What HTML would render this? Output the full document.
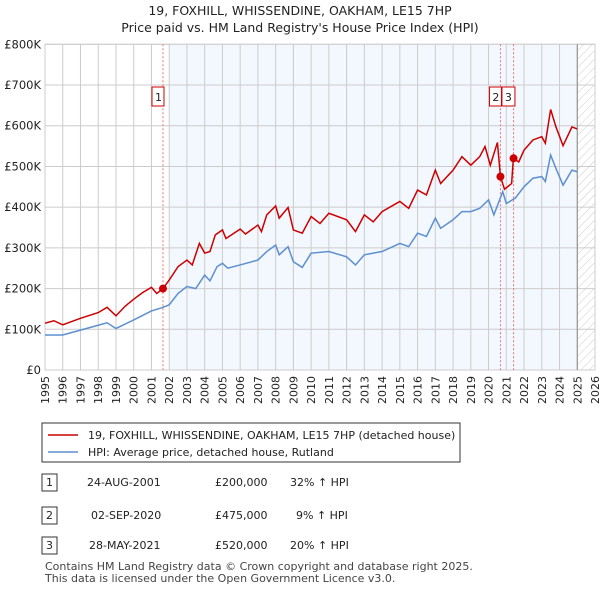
<!DOCTYPE html>
<html><head><meta charset="utf-8"><style>
body{margin:0;background:#fff;font-family:"Liberation Sans","DejaVu Sans",sans-serif;}
svg text{font-family:"DejaVu Sans","Liberation Sans",sans-serif;}
</style></head><body>
<svg id="c" width="600" height="590" xmlns="http://www.w3.org/2000/svg">
<text x="300" y="15" text-anchor="middle" font-size="12.5" fill="#222">19, FOXHILL, WHISSENDINE, OAKHAM, LE15 7HP</text>
<text x="300" y="32" text-anchor="middle" font-size="12.5" fill="#222">Price paid vs. HM Land Registry's House Price Index (HPI)</text>
<defs><pattern id="hatch" width="6" height="6" patternUnits="userSpaceOnUse" patternTransform="rotate(45)"><line x1="0" y1="0" x2="0" y2="6" stroke="#ccc" stroke-width="1"/></pattern></defs>
<g id="plot"></g>
<rect x="42" y="423" width="418" height="39" fill="#fff" stroke="#333" stroke-width="1"/>
<line x1="48" y1="435" x2="78" y2="435" stroke="#cc0000" stroke-width="1.5"/>
<text x="88" y="439" font-size="11" fill="#222">19, FOXHILL, WHISSENDINE, OAKHAM, LE15 7HP (detached house)</text>
<line x1="48" y1="452" x2="78" y2="452" stroke="#5b8fd0" stroke-width="1.5"/>
<text x="88" y="456" font-size="11" fill="#222">HPI: Average price, detached house, Rutland</text>
<g font-size="11" fill="#222">
<rect x="42" y="474" width="15" height="17" fill="#fff" stroke="#333"/><text x="49.5" y="486" text-anchor="middle">1</text>
<text x="87" y="486">24-AUG-2001</text><text x="215" y="486">£200,000</text><text x="290" y="486">32% ↑ HPI</text>
<rect x="42" y="507" width="15" height="17" fill="#fff" stroke="#333"/><text x="49.5" y="519" text-anchor="middle">2</text>
<text x="91" y="519">02-SEP-2020</text><text x="215" y="519">£475,000</text><text x="296" y="519">9% ↑ HPI</text>
<rect x="42" y="537" width="15" height="17" fill="#fff" stroke="#333"/><text x="49.5" y="549" text-anchor="middle">3</text>
<text x="89" y="549">28-MAY-2021</text><text x="215" y="549">£520,000</text><text x="290" y="549">20% ↑ HPI</text>
</g>
<text x="45" y="570" font-size="11" fill="#444">Contains HM Land Registry data © Crown copyright and database right 2025.</text>
<text x="45" y="582" font-size="11" fill="#444">This data is licensed under the Open Government Licence v3.0.</text>
</svg>
<script>
const hpiYears=[1995,1996,1997,1998,1998.5,1999,2000,2001,2001.6,2002,2002.5,2003,2003.5,2004,2004.3,2004.7,2005,2005.3,2006,2007,2007.5,2008,2008.2,2008.7,2009,2009.5,2010,2011,2012,2012.5,2013,2014,2015,2015.5,2016,2016.5,2017,2017.3,2018,2018.5,2019,2019.5,2020,2020.3,2020.8,2021,2021.5,2022,2022.5,2023,2023.2,2023.5,2023.8,2024.2,2024.7,2025];
const hpiValues=[86,86,98,110,116,102,123,145,153,160,188,205,200,233,219,254,262,250,258,270,291,307,283,303,266,252,287,291,278,258,283,291,311,303,336,328,373,348,369,389,389,397,418,381,438,409,422,450,471,475,463,528,495,454,491,487];
const propYears=[1995,1995.5,1996,1997,1998,1998.5,1999,1999.5,2000,2000.5,2001,2001.3,2001.65,2002,2002.5,2003,2003.3,2003.7,2004,2004.3,2004.6,2005,2005.2,2006,2006.3,2007,2007.2,2007.5,2008,2008.2,2008.7,2009,2009.5,2010,2010.5,2011,2012,2012.5,2013,2013.5,2014,2015,2015.5,2016,2016.5,2017,2017.3,2018,2018.5,2019,2019.5,2019.8,2020.1,2020.5,2020.67,2020.9,2021.3,2021.4,2021.7,2022,2022.5,2023,2023.2,2023.5,2023.8,2024.2,2024.7,2025];
const propValues=[115,121,111,127,141,154,133,156,174,190,203,188,200,221,254,270,258,311,287,291,332,344,323,346,334,356,340,381,403,373,399,344,336,377,360,385,369,340,381,364,389,414,397,442,430,491,458,491,524,503,524,549,503,559,475,444,458,520,511,540,565,573,557,640,597,551,597,592];
const saleYears=[2001.65,2020.67,2021.41];
const saleValues=[200,475,520];
const saleLabels=["1","2","3"];
const yTicks=[0,100,200,300,400,500,600,700,800];
const yTickLabels=["£0","£100K","£200K","£300K","£400K","£500K","£600K","£700K","£800K"];
const xTicks=[1995,1996,1997,1998,1999,2000,2001,2002,2003,2004,2005,2006,2007,2008,2009,2010,2011,2012,2013,2014,2015,2016,2017,2018,2019,2020,2021,2022,2023,2024,2025,2026];

const L=45,R=595,T=44.3,B=370;
const X=y=>L+(y-1995)/31*(R-L);
const Y=v=>B-v/800*(B-T);
const NS="http://www.w3.org/2000/svg";
const g=document.getElementById('plot');
function mk(t,a){const e=document.createElementNS(NS,t);for(const k in a)e.setAttribute(k,a[k]);g.appendChild(e);return e;}
let e;
e=mk('rect',{x:L,y:T,width:R-L,height:B-T,fill:'#fff',stroke:'#ccc'});


e=mk('rect',{x:X(2002),y:T,width:X(2025)-X(2002),height:B-T,fill:'#eef3fd',opacity:0.7});


e=mk('rect',{x:X(2025),y:T,width:R-X(2025),height:B-T,fill:'url(#hatch)'});


xTicks.forEach(t=>{
 e=mk('line',{x1:X(t),x2:X(t),y1:T,y2:B,stroke:'#ccc','stroke-width':1});
 
 
 e=mk('text',{x:0,y:0,'font-size':11,fill:'#222','text-anchor':'end',transform:`translate(${X(t)+4},${B+6}) rotate(-90)`});
 e.textContent=t;
 
 
});
yTicks.forEach((t,i)=>{
 e=mk('line',{x1:L,x2:R,y1:Y(t),y2:Y(t),stroke:'#ccc','stroke-width':1});
 
 
 e=mk('text',{x:L-4,y:Y(t)+4,'font-size':11.5,fill:'#222','text-anchor':'end'});
 e.textContent=yTickLabels[i];
 
 
});
e=mk('line',{x1:X(2025),x2:X(2025),y1:T,y2:B,stroke:'#888','stroke-width':1});


saleYears.forEach(s=>{
 e=mk('line',{x1:X(s),x2:X(s),y1:T,y2:B,stroke:'#f07070','stroke-width':1,'stroke-dasharray':'2,2'});
 
 
});
e=mk('polyline',{points:hpiYears.map((y,i)=>X(y)+','+Y(hpiValues[i])).join(' '),fill:'none',stroke:'#5b8fd0','stroke-width':1.5});


e=mk('polyline',{points:propYears.map((y,i)=>X(y)+','+Y(propValues[i])).join(' '),fill:'none',stroke:'#cc0000','stroke-width':1.5});


saleYears.forEach((s,i)=>{
 e=mk('circle',{cx:X(s),cy:Y(saleValues[i]),r:4,fill:'#cc0000'});
 
 
 const bx=i==2?X(saleYears[1])+1.5:X(s)-11;
 e=mk('rect',{x:bx,y:87,width:i==2?13:12,height:19,fill:'#fff',stroke:'#cc0000'});
 
 
 e=mk('text',{x:bx+6.5,y:101,'font-size':11,fill:'#222','text-anchor':'middle'});
 e.textContent=saleLabels[i];
 
 
});
</script>
</body></html>
